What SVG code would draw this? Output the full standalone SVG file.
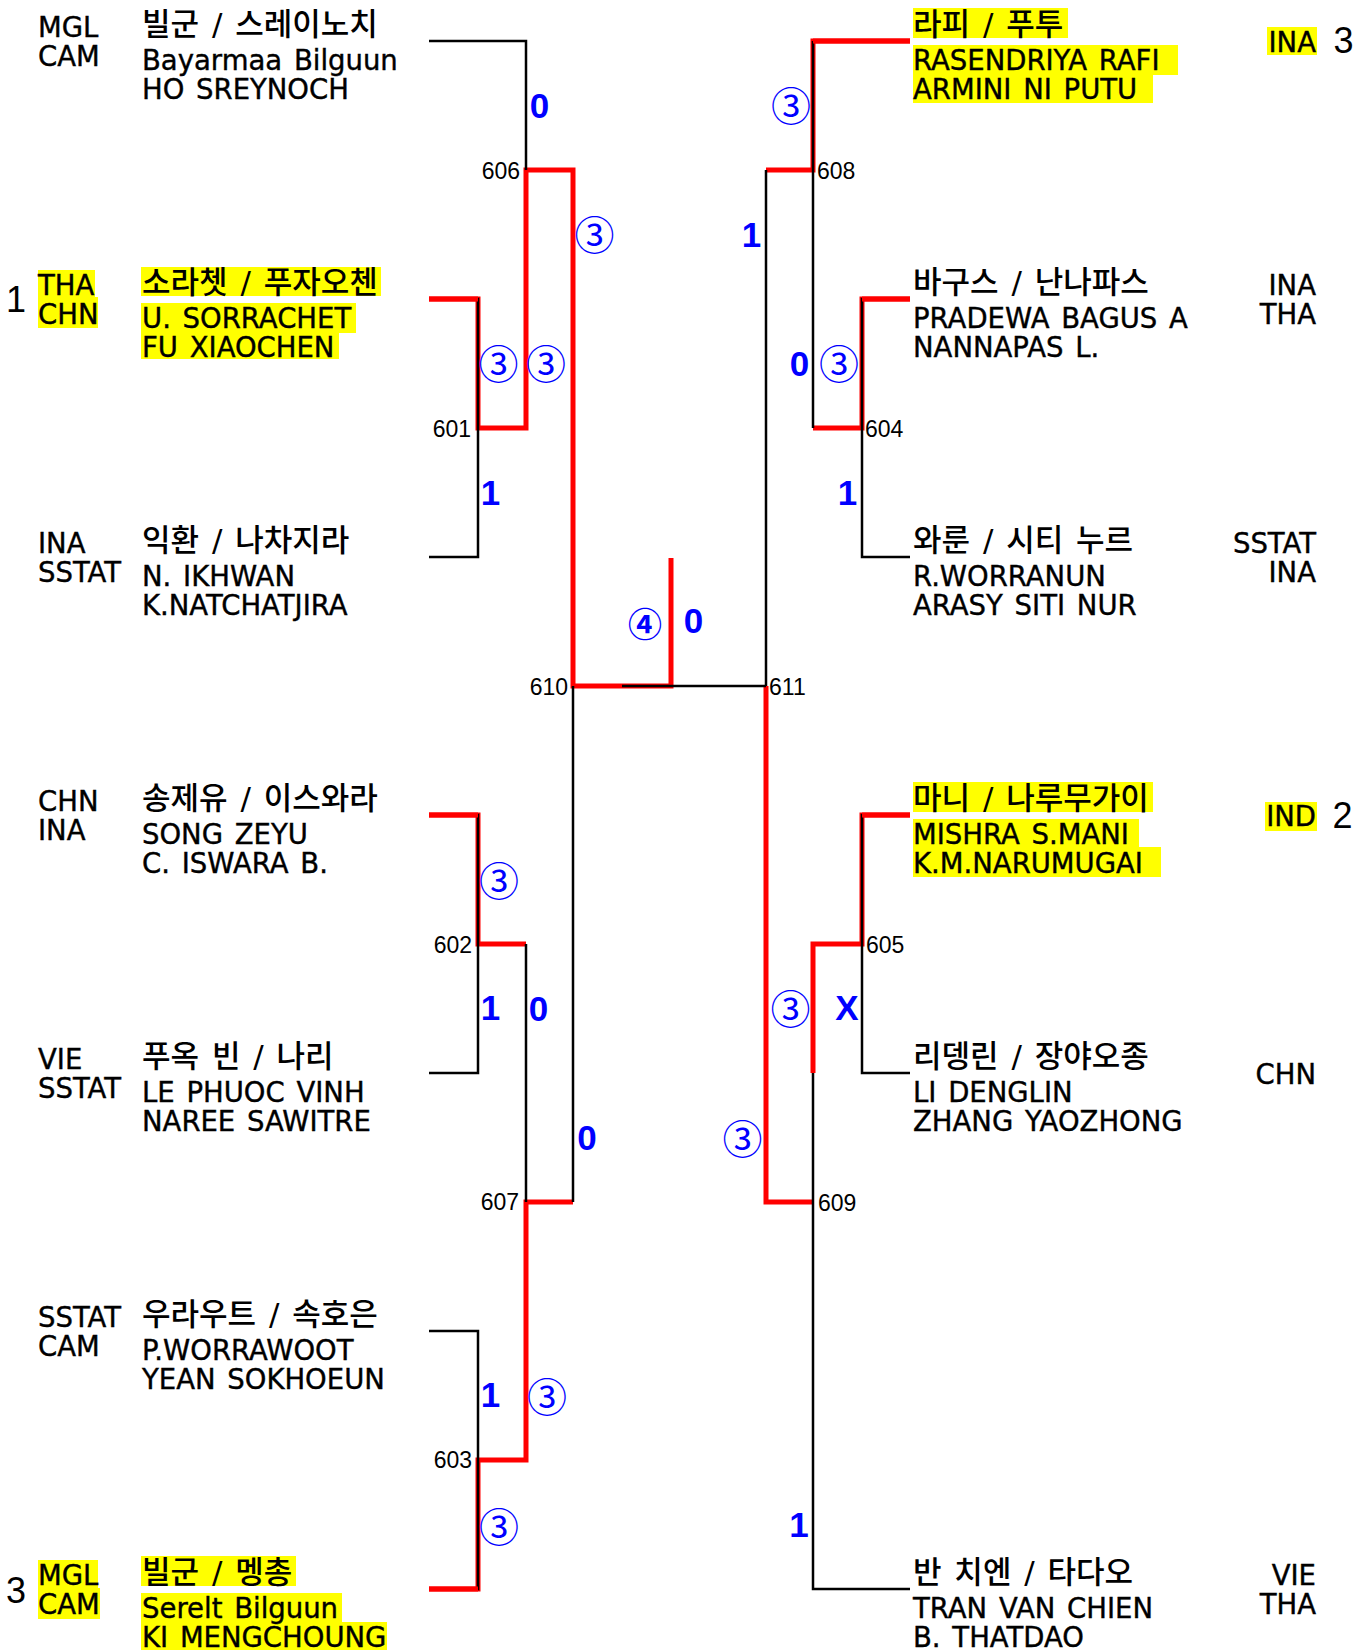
<svg xmlns="http://www.w3.org/2000/svg" width="1367" height="1652" viewBox="0 0 1367 1652">
<style>
text { font-family: "DejaVu Sans", "Noto Sans CJK KR", sans-serif; fill: #000; }
.n { font-size: 27.5px; word-spacing: 3px; stroke: #000; stroke-width: 0.4px; }
.k { font-size: 31px; word-spacing: 3px; font-weight: 500; }
.c { font-size: 27.5px; stroke: #000; stroke-width: 0.4px; }
.r { text-anchor: end; }
.seed { font-family: "Liberation Sans", sans-serif; font-size: 36px; text-anchor: middle; }
.hl { fill: #ffff00; }
.blk { fill: none; stroke: #000; stroke-width: 2.5; }
.red { fill: none; stroke: #ff0000; stroke-width: 5; stroke-linejoin: miter; }
.mn { font-family: "Liberation Sans", sans-serif; font-size: 23px; }
.sc { font-family: "Liberation Sans", sans-serif; font-weight: bold; font-size: 35px; fill: #0000ff; text-anchor: middle; }
.ci { font-family: "Noto Sans CJK KR", sans-serif; font-size: 40px; fill: #0000ff; text-anchor: middle; dominant-baseline: central; }
.ci4 { font-family: "Noto Sans CJK KR", sans-serif; font-weight: bold; font-size: 34px; fill: #0000ff; text-anchor: middle; dominant-baseline: central; }
</style>
<rect width="1367" height="1652" fill="#fff"/>

<g id="connectors">
  <path class="red" d="M429,299 H478 V428 H526 V170 H573 V686 H671 V558"/>
  <path class="red" d="M429,815 H478 V944 H526"/>
  <path class="red" d="M429,1589 H478 V1460 H526 V1202 H573"/>
  <path class="red" d="M910,41 H813 V170 H766"/>
  <path class="red" d="M910,299 H862 V428 H813"/>
  <path class="red" d="M910,815 H862 V944 H813 V1073"/>
  <path class="red" d="M813,1202 H766 V686"/>
  <path class="blk" d="M429,41 H526 V170"/>
  <path class="blk" d="M429,299 H478 V557 H429"/>
  <path class="blk" d="M429,815 H478 V1073 H429"/>
  <path class="blk" d="M429,1331 H478 V1589 H429"/>
  <path class="blk" d="M526,944 V1202"/>
  <path class="blk" d="M573,686 V1202"/>
  <path class="blk" d="M622,686 H766"/>
  <path class="blk" d="M813,41 V428"/>
  <path class="blk" d="M910,299 H862 V557 H910"/>
  <path class="blk" d="M766,170 V686"/>
  <path class="blk" d="M910,815 H862 V1073 H910"/>
  <path class="blk" d="M813,1073 V1589 H910"/>
  <path class="red" d="M429,299 H478 M429,815 H478 M429,1589 H478 M813,41 H910 M862,299 H910 M862,815 H910"/>
</g>

<g id="match-numbers">
  <text class="mn r" x="520" y="179">606</text>
  <text class="mn r" x="471" y="437">601</text>
  <text class="mn r" x="568" y="695">610</text>
  <text class="mn r" x="472" y="953">602</text>
  <text class="mn r" x="519" y="1210">607</text>
  <text class="mn r" x="472" y="1468">603</text>
  <text class="mn" x="817" y="179">608</text>
  <text class="mn" x="865" y="437">604</text>
  <text class="mn" x="769" y="695">611</text>
  <text class="mn" x="866" y="953">605</text>
  <text class="mn" x="818" y="1211">609</text>
</g>

<g id="scores">
  <text class="sc" x="539.5" y="118">0</text>
  <text class="ci" x="594.5" y="232.5">③</text>
  <text class="ci" x="498.5" y="362">③</text>
  <text class="ci" x="546" y="362">③</text>
  <text class="sc" x="490.5" y="505">1</text>
  <text class="ci4" x="645" y="622">④</text>
  <text class="sc" x="693.5" y="633">0</text>
  <text class="ci" x="499" y="878.5">③</text>
  <text class="sc" x="490.5" y="1020">1</text>
  <text class="sc" x="538.5" y="1021">0</text>
  <text class="sc" x="587" y="1150">0</text>
  <text class="sc" x="490.5" y="1407">1</text>
  <text class="ci" x="547" y="1395">③</text>
  <text class="ci" x="499" y="1525">③</text>
  <text class="ci" x="791" y="104">③</text>
  <text class="sc" x="751.5" y="247">1</text>
  <text class="sc" x="799.5" y="376">0</text>
  <text class="ci" x="839" y="362">③</text>
  <text class="sc" x="847.5" y="505">1</text>
  <text class="ci" x="790.5" y="1007">③</text>
  <text class="sc" x="847" y="1020">X</text>
  <text class="ci" x="742.5" y="1136.5">③</text>
  <text class="sc" x="799" y="1537">1</text>
</g>

<g id="L1">
  <text class="c" x="38" y="37">MGL</text>
  <text class="c" x="38" y="66">CAM</text>
  <text class="k" x="142" y="35">빌군 / 스레이노치</text>
  <text class="n" x="142" y="70">Bayarmaa Bilguun</text>
  <text class="n" x="142" y="99">HO SREYNOCH</text>
</g>

<g id="L2">
  <rect class="hl" x="141" y="267" width="240" height="29"/>
  <rect class="hl" x="141" y="303" width="215" height="30"/>
  <rect class="hl" x="141" y="333" width="198" height="26"/>
  <rect class="hl" x="38" y="270" width="57" height="27"/>
  <rect class="hl" x="38" y="297" width="60" height="31"/>
  <text class="seed" x="16" y="312">1</text>
  <text class="c" x="38" y="295">THA</text>
  <text class="c" x="38" y="324">CHN</text>
  <text class="k" x="142" y="293">소라쳇 / 푸자오첸</text>
  <text class="n" x="142" y="328">U. SORRACHET</text>
  <text class="n" x="142" y="357">FU XIAOCHEN</text>
</g>

<g id="L3">
  <text class="c" x="38" y="553">INA</text>
  <text class="c" x="38" y="582">SSTAT</text>
  <text class="k" x="142" y="551">익환 / 나차지라</text>
  <text class="n" x="142" y="586">N. IKHWAN</text>
  <text class="n" x="142" y="615">K.NATCHATJIRA</text>
</g>

<g id="L4">
  <text class="c" x="38" y="811">CHN</text>
  <text class="c" x="38" y="840">INA</text>
  <text class="k" x="142" y="809">송제유 / 이스와라</text>
  <text class="n" x="142" y="844">SONG ZEYU</text>
  <text class="n" x="142" y="873">C. ISWARA B.</text>
</g>

<g id="L5">
  <text class="c" x="38" y="1069">VIE</text>
  <text class="c" x="38" y="1098">SSTAT</text>
  <text class="k" x="142" y="1067">푸옥 빈 / 나리</text>
  <text class="n" x="142" y="1102">LE PHUOC VINH</text>
  <text class="n" x="142" y="1131">NAREE SAWITRE</text>
</g>

<g id="L6">
  <text class="c" x="38" y="1327">SSTAT</text>
  <text class="c" x="38" y="1356">CAM</text>
  <text class="k" x="142" y="1325">우라우트 / 속호은</text>
  <text class="n" x="142" y="1360">P.WORRAWOOT</text>
  <text class="n" x="142" y="1389">YEAN SOKHOEUN</text>
</g>

<g id="L7">
  <rect class="hl" x="141" y="1556" width="155" height="30"/>
  <rect class="hl" x="141" y="1593" width="201" height="29"/>
  <rect class="hl" x="141" y="1622" width="246" height="28"/>
  <rect class="hl" x="38" y="1560" width="60" height="28"/>
  <rect class="hl" x="38" y="1588" width="62" height="31"/>
  <text class="seed" x="16" y="1603">3</text>
  <text class="c" x="38" y="1585">MGL</text>
  <text class="c" x="38" y="1614">CAM</text>
  <text class="k" x="142" y="1583">빌군 / 멩총</text>
  <text class="n" x="142" y="1618">Serelt Bilguun</text>
  <text class="n" x="142" y="1647">KI MENGCHOUNG</text>
</g>

<g id="R1">
  <rect class="hl" x="913" y="8" width="155" height="30"/>
  <rect class="hl" x="913" y="45" width="265" height="30"/>
  <rect class="hl" x="913" y="75" width="240" height="28"/>
  <rect class="hl" x="1267" y="27" width="50" height="28"/>
  <text class="k" x="913" y="35">라피 / 푸투</text>
  <text class="n" x="913" y="70">RASENDRIYA RAFI</text>
  <text class="n" x="913" y="99">ARMINI NI PUTU</text>
  <text class="c r" x="1316" y="52">INA</text>
  <text class="seed" x="1343.5" y="53">3</text>
</g>

<g id="R2">
  <text class="k" x="913" y="293">바구스 / 난나파스</text>
  <text class="n" x="913" y="328">PRADEWA BAGUS A</text>
  <text class="n" x="913" y="357">NANNAPAS L.</text>
  <text class="c r" x="1316" y="295">INA</text>
  <text class="c r" x="1316" y="324">THA</text>
</g>

<g id="R3">
  <text class="k" x="913" y="551">와룬 / 시티 누르</text>
  <text class="n" x="913" y="586">R.WORRANUN</text>
  <text class="n" x="913" y="615">ARASY SITI NUR</text>
  <text class="c r" x="1316" y="553">SSTAT</text>
  <text class="c r" x="1316" y="582">INA</text>
</g>

<g id="R4">
  <rect class="hl" x="913" y="782" width="240" height="30"/>
  <rect class="hl" x="913" y="819" width="226" height="28"/>
  <rect class="hl" x="913" y="847" width="248" height="30"/>
  <rect class="hl" x="1265" y="802" width="52" height="29"/>
  <text class="k" x="913" y="809">마니 / 나루무가이</text>
  <text class="n" x="913" y="844">MISHRA S.MANI</text>
  <text class="n" x="913" y="873">K.M.NARUMUGAI</text>
  <text class="c r" x="1316" y="826">IND</text>
  <text class="seed" x="1342.5" y="828">2</text>
</g>

<g id="R5">
  <text class="k" x="913" y="1067">리뎅린 / 장야오종</text>
  <text class="n" x="913" y="1102">LI DENGLIN</text>
  <text class="n" x="913" y="1131">ZHANG YAOZHONG</text>
  <text class="c r" x="1316" y="1084">CHN</text>
</g>

<g id="R6">
  <text class="k" x="913" y="1583">반 치엔 / 타다오</text>
  <text class="n" x="913" y="1618">TRAN VAN CHIEN</text>
  <text class="n" x="913" y="1647">B. THATDAO</text>
  <text class="c r" x="1316" y="1585">VIE</text>
  <text class="c r" x="1316" y="1614">THA</text>
</g>
</svg>
